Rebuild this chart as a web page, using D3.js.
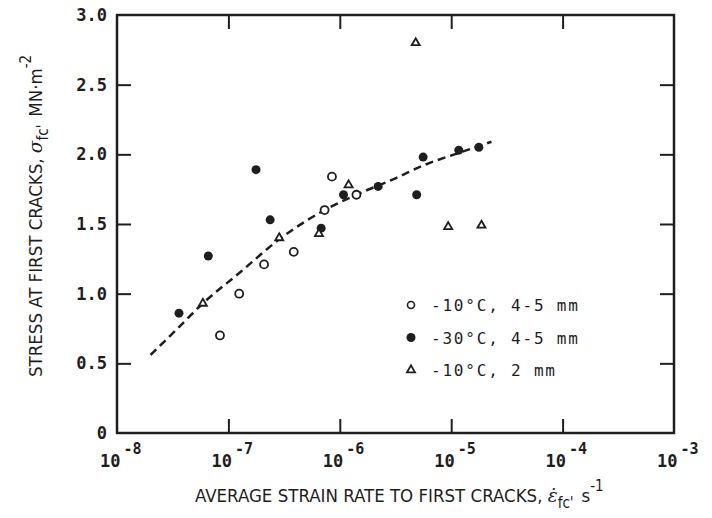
<!DOCTYPE html>
<html>
<head>
<meta charset="utf-8">
<script src="https://cdn.jsdelivr.net/npm/d3@7"></script>
<style>
  body { margin: 0; background: #fff; }
  svg { display: block; }
</style>
</head>
<body>
<div class="container"></div>
<script>
// data (strain rate in s^-1, stress in MN m^-2)
const open10Rate = [8.5e-7, 1.41e-6, 7.3e-7, 3.86e-7, 2.09e-7, 1.25e-7, 8.4e-8]
const open10Stress = [1.84, 1.71, 1.60, 1.30, 1.21, 1.00, 0.70]

const filled30Rate = [1.77e-7, 2.37e-7, 6.6e-8, 3.6e-8, 6.8e-7, 1.08e-6, 2.21e-6, 5.6e-6, 4.9e-6, 1.17e-5, 1.77e-5]
const filled30Stress = [1.89, 1.53, 1.27, 0.86, 1.47, 1.71, 1.77, 1.98, 1.71, 2.03, 2.05]

const tri2Rate = [1.2e-6, 2.86e-7, 6.5e-7, 5.9e-8, 4.8e-6, 9.4e-6, 1.87e-5]
const tri2Stress = [1.78, 1.40, 1.43, 0.93, 2.80, 1.48, 1.49]

// dashed trend curve
const fitRate = [2.0e-8, 3.5e-8, 5.9e-8, 1.26e-7, 2.86e-7, 7.3e-7, 1.41e-6, 3.2e-6, 5.6e-6, 1.17e-5, 2.3e-5]
const fitStress = [0.56, 0.75, 0.93, 1.15, 1.39, 1.60, 1.71, 1.83, 1.92, 2.01, 2.09]

const xTickExps = [-8, -7, -6, -5, -4, -3]
const yTicks = [0, 0.5, 1.0, 1.5, 2.0, 2.5, 3.0]
const legendLabels = ['-10°C, 4-5 mm', '-30°C, 4-5 mm', '-10°C, 2 mm']

const width = 712
const height = 518
const mLeft = 117, mRight = 674, mTop = 15, mBottom = 433
const ink = '#1e1e1e'
const monoFont = '"DejaVu Sans Mono", monospace'
const titleFont = '"Liberation Sans Narrow", "DejaVu Sans Condensed", sans-serif'

const svg = d3.select('.container')
    .append('svg')
    .attr('width', width)
    .attr('height', height)

const x = d3.scaleLog().domain([1e-8, 1e-3]).range([mLeft, mRight])
const y = d3.scaleLinear().domain([0, 3]).range([mBottom, mTop])

const tickVals = xTickExps.slice(1, -1).map(e => Math.pow(10, e))
const yInner = yTicks.slice(1, -1)

// inward ticks on all four sides
const axes = [
    { ax: d3.axisBottom(x).tickValues(tickVals), t: `translate(0,${mBottom})` },
    { ax: d3.axisTop(x).tickValues(tickVals), t: `translate(0,${mTop})` },
    { ax: d3.axisLeft(y).tickValues(yInner), t: `translate(${mLeft},0)` },
    { ax: d3.axisRight(y).tickValues(yInner), t: `translate(${mRight},0)` }
]
axes.forEach(a => {
    const g = svg.append('g')
        .attr('transform', a.t)
        .call(a.ax.tickSizeInner(-14).tickSizeOuter(0).tickFormat(''))
    g.select('.domain').remove()
    g.selectAll('.tick line').attr('stroke', ink).attr('stroke-width', 2)
})

// frame
svg.append('rect')
    .attr('x', mLeft)
    .attr('y', mTop)
    .attr('width', mRight - mLeft)
    .attr('height', mBottom - mTop)
    .attr('fill', 'none')
    .attr('stroke', ink)
    .attr('stroke-width', 2.5)

// y tick labels
svg.append('g')
    .selectAll('text')
    .data(yTicks)
    .enter()
    .append('text')
    .attr('x', mLeft - 10)
    .attr('y', d => y(d) + 6)
    .attr('text-anchor', 'end')
    .attr('font-family', monoFont)
    .attr('font-weight', 'bold')
    .attr('font-size', 17)
    .attr('fill', ink)
    .text(d => d === 0 ? '0' : d3.format('.1f')(d))

// x tick labels 10^n
const xl = svg.append('g')
    .selectAll('text')
    .data(xTickExps)
    .enter()
    .append('text')
    .attr('x', d => x(Math.pow(10, d)) - 17)
    .attr('y', mBottom + 34)
    .attr('font-family', monoFont)
    .attr('font-weight', 'bold')
    .attr('font-size', 17)
    .attr('fill', ink)
xl.append('tspan').text('10')
xl.append('tspan')
    .attr('dx', 3)
    .attr('dy', -13)
    .attr('font-size', 15)
    .text(d => '-' + Math.abs(d))

// dashed curve
const line = d3.line()
    .x(d => x(d[0]))
    .y(d => y(d[1]))
    .curve(d3.curveMonotoneX)

svg.append('path')
    .datum(fitRate.map((r, i) => [r, fitStress[i]]))
    .attr('d', line)
    .attr('fill', 'none')
    .attr('stroke', ink)
    .attr('stroke-width', 2.5)
    .attr('stroke-dasharray', '8,5')

const tri = d3.symbol().type(d3.symbolTriangle).size(28)

// points
svg.append('g')
    .selectAll('circle')
    .data(open10Rate.map((r, i) => [r, open10Stress[i]]))
    .enter()
    .append('circle')
    .attr('cx', d => x(d[0]))
    .attr('cy', d => y(d[1]))
    .attr('r', 4)
    .attr('fill', '#fff')
    .attr('stroke', ink)
    .attr('stroke-width', 1.8)

svg.append('g')
    .selectAll('circle')
    .data(filled30Rate.map((r, i) => [r, filled30Stress[i]]))
    .enter()
    .append('circle')
    .attr('cx', d => x(d[0]))
    .attr('cy', d => y(d[1]))
    .attr('r', 4.5)
    .attr('fill', ink)

svg.append('g')
    .selectAll('path')
    .data(tri2Rate.map((r, i) => [r, tri2Stress[i]]))
    .enter()
    .append('path')
    .attr('d', tri)
    .attr('transform', d => `translate(${x(d[0])},${y(d[1])})`)
    .attr('fill', '#fff')
    .attr('stroke', ink)
    .attr('stroke-width', 1.8)

// legend
const lg = svg.append('g').attr('transform', 'translate(411,305)')
const rows = lg.selectAll('g')
    .data(legendLabels)
    .enter()
    .append('g')
    .attr('transform', (d, i) => `translate(0,${i * 32.5})`)

rows.filter((d, i) => i === 0).append('circle')
    .attr('r', 3.5).attr('fill', '#fff').attr('stroke', ink).attr('stroke-width', 1.6)
rows.filter((d, i) => i === 1).append('circle')
    .attr('r', 4.5).attr('fill', ink)
rows.filter((d, i) => i === 2).append('path')
    .attr('d', tri).attr('fill', '#fff').attr('stroke', ink).attr('stroke-width', 1.8)

rows.append('text')
    .attr('x', 20)
    .attr('y', 6)
    .attr('font-family', monoFont)
    .attr('font-size', 16)
    .attr('letter-spacing', 1.8)
    .attr('fill', ink)
    .text(d => d)

// x axis title
const xt = svg.append('text')
    .attr('x', 195)
    .attr('y', 502)
    .attr('font-family', titleFont)
    .attr('font-size', 18.5)
    .attr('fill', ink)
xt.append('tspan').text('AVERAGE STRAIN RATE TO FIRST CRACKS, ')
xt.append('tspan').attr('font-family', '"DejaVu Serif", serif').attr('font-style', 'italic').text('\u03b5\u0307')
xt.append('tspan').attr('dy', 6).attr('font-size', 15).text("fc'")
xt.append('tspan').attr('dy', -6).attr('dx', 8).text('s')
xt.append('tspan').attr('dy', -11).attr('font-size', 15).text('-1')

// y axis title
const yt = svg.append('text')
    .attr('transform', 'translate(42,377) rotate(-90)')
    .attr('font-family', titleFont)
    .attr('font-size', 18.5)
    .attr('fill', ink)
yt.append('tspan').text('STRESS AT FIRST CRACKS, ')
yt.append('tspan').attr('font-family', '"DejaVu Serif", serif').attr('font-style', 'italic').text('\u03c3')
yt.append('tspan').attr('dy', 6).attr('font-size', 15).text("fc'")
yt.append('tspan').attr('dy', -6).attr('dx', 8).text('MN\u00b7m')
yt.append('tspan').attr('dy', -11).attr('font-size', 15).text('-2')
</script>
</body>
</html>
